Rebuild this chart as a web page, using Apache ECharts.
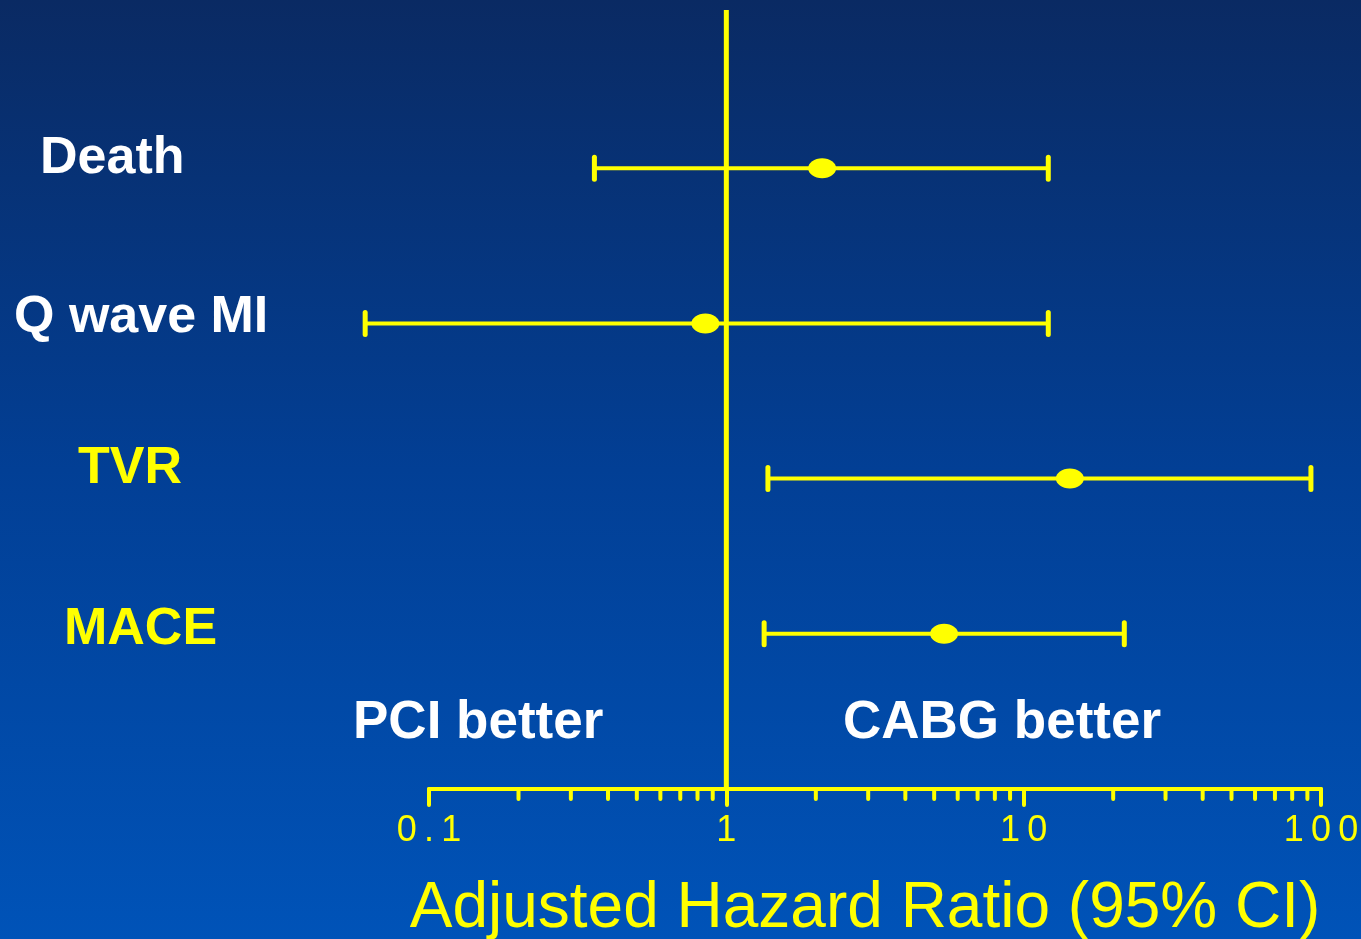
<!DOCTYPE html>
<html>
<head>
<meta charset="utf-8">
<title>Adjusted Hazard Ratio (95% CI)</title>
<script src="https://cdn.jsdelivr.net/npm/echarts@6/dist/echarts.min.js"></script>
<style>
  html, body { margin: 0; padding: 0; background: #0a3a86; }
  #chart { width: 1361px; height: 939px; }
</style>
</head>
<body>
<div id="chart"></div>
<script>
// Outcomes, top to bottom
const categories = ['Death', 'Q wave MI', 'TVR', 'MACE'];
// Hazard ratio point estimates and 95% confidence limits
const hazardRatio = [2.10, 0.85, 14.3, 5.4];
const ciLower = [0.36, 0.061, 1.38, 1.34];
const ciUpper = [12.1, 12.1, 92.5, 21.8];
// Label colour per outcome
const labelColors = ['#ffffff', '#ffffff', '#ffff00', '#ffff00'];
// Axis ticks
const tickLabels = ['0.1', '1', '10', '100'];
const minorTicks = [0.2, 0.3, 0.4, 0.5, 0.6, 0.7, 0.8, 0.9,
                    2, 3, 4, 5, 6, 7, 8, 9,
                    20, 30, 40, 50, 60, 70, 80, 90];
const axisTitle = 'Adjusted Hazard Ratio (95% CI)';
const leftNote = 'PCI better';
const rightNote = 'CABG better';

const YELLOW = '#ffff00';
const FONT = '"Liberation Sans", Arial, Helvetica, sans-serif';

const chart = echarts.init(document.getElementById('chart'), null, { renderer: 'canvas' });

const forestData = categories.map((c, i) => [i, ciLower[i], hazardRatio[i], ciUpper[i]]);

// Outcome labels sit to the left of the plot, each with its own indent
const labelLeft = [40, 14, 78, 64];
const labelShift = [-12, -8, -12, -6];

const option = {
  backgroundColor: {
    type: 'linear', x: 0, y: 0, x2: 0, y2: 1,
    colorStops: [
      { offset: 0, color: '#0a2a63' },
      { offset: 0.5, color: '#023f95' },
      { offset: 1, color: '#0053b8' }
    ]
  },
  animation: false,
  grid: { left: 429, right: 40, top: 13, bottom: 150, containLabel: false, outerBoundsMode: 'none' },
  xAxis: {
    type: 'log',
    logBase: 10,
    min: 0.1,
    max: 100,
    splitLine: { show: false },
    axisLine: { show: true, onZero: false, lineStyle: { color: YELLOW, width: 4, cap: 'round' } },
    axisTick: { show: true, inside: false, length: 16, lineStyle: { color: YELLOW, width: 4, cap: 'round' } },
    minorTick: { show: false },
    axisLabel: {
      color: YELLOW,
      fontFamily: FONT,
      fontSize: 36,
      margin: 24,
      formatter: (v, idx) => (tickLabels[idx] || String(v)).split('').join('\u2009')
    },
    name: axisTitle,
    nameLocation: 'middle',
    nameGap: 88,
    nameTextStyle: { color: YELLOW, fontFamily: FONT, fontSize: 64, padding: [0, 20, 0, 0] }
  },
  yAxis: {
    type: 'value',
    inverse: true,
    min: -1,
    max: 4,
    show: false
  },
  series: [
    {
      // reference line at HR = 1
      type: 'custom',
      clip: false,
      silent: true,
      data: [[1]],
      renderItem: (params, api) => {
        const top = api.coord([1, -1.02]);
        const bottom = api.coord([1, 4]);
        return {
          type: 'line',
          shape: { x1: top[0], y1: top[1], x2: bottom[0], y2: bottom[1] },
          style: { stroke: YELLOW, lineWidth: 5 }
        };
      }
    },
    {
      // minor ticks of the log axis
      type: 'custom',
      clip: false,
      silent: true,
      data: minorTicks.map(v => [v]),
      renderItem: (params, api) => {
        const p = api.coord([api.value(0), 4]);
        return {
          type: 'line',
          shape: { x1: p[0], y1: p[1], x2: p[0], y2: p[1] + 10 },
          style: { stroke: YELLOW, lineWidth: 4, lineCap: 'round' }
        };
      }
    },
    {
      // confidence intervals with point estimates
      type: 'custom',
      clip: false,
      silent: true,
      data: forestData,
      renderItem: (params, api) => {
        const row = api.value(0);
        const lo = api.coord([api.value(1), row]);
        const mid = api.coord([api.value(2), row]);
        const hi = api.coord([api.value(3), row]);
        const capH = 11;
        return {
          type: 'group',
          children: [
            {
              type: 'line',
              shape: { x1: lo[0], y1: lo[1], x2: hi[0], y2: hi[1] },
              style: { stroke: YELLOW, lineWidth: 4 }
            },
            {
              type: 'line',
              shape: { x1: lo[0], y1: lo[1] - capH, x2: lo[0], y2: lo[1] + capH },
              style: { stroke: YELLOW, lineWidth: 5, lineCap: 'round' }
            },
            {
              type: 'line',
              shape: { x1: hi[0], y1: hi[1] - capH, x2: hi[0], y2: hi[1] + capH },
              style: { stroke: YELLOW, lineWidth: 5, lineCap: 'round' }
            },
            {
              type: 'ellipse',
              shape: { cx: mid[0], cy: mid[1], rx: 14, ry: 10 },
              style: { fill: YELLOW }
            }
          ]
        };
      }
    }
  ]
};

chart.setOption(option);

// Place the outcome labels beside their rows using the y scale
const rowLabels = categories.map((c, i) => {
  const y = chart.convertToPixel({ gridIndex: 0 }, [1, i])[1];
  return {
    type: 'text',
    left: labelLeft[i],
    top: y + labelShift[i] - 24,
    silent: true,
    style: { text: c, fill: labelColors[i], font: 'bold 52px ' + FONT }
  };
});
chart.setOption({
  graphic: [
    ...rowLabels,
    {
      type: 'text', left: 353, top: 697, silent: true,
      style: { text: leftNote, fill: '#ffffff', font: 'bold 53px ' + FONT }
    },
    {
      type: 'text', left: 843, top: 697, silent: true,
      style: { text: rightNote, fill: '#ffffff', font: 'bold 53px ' + FONT }
    }
  ]
});
</script>
</body>
</html>
